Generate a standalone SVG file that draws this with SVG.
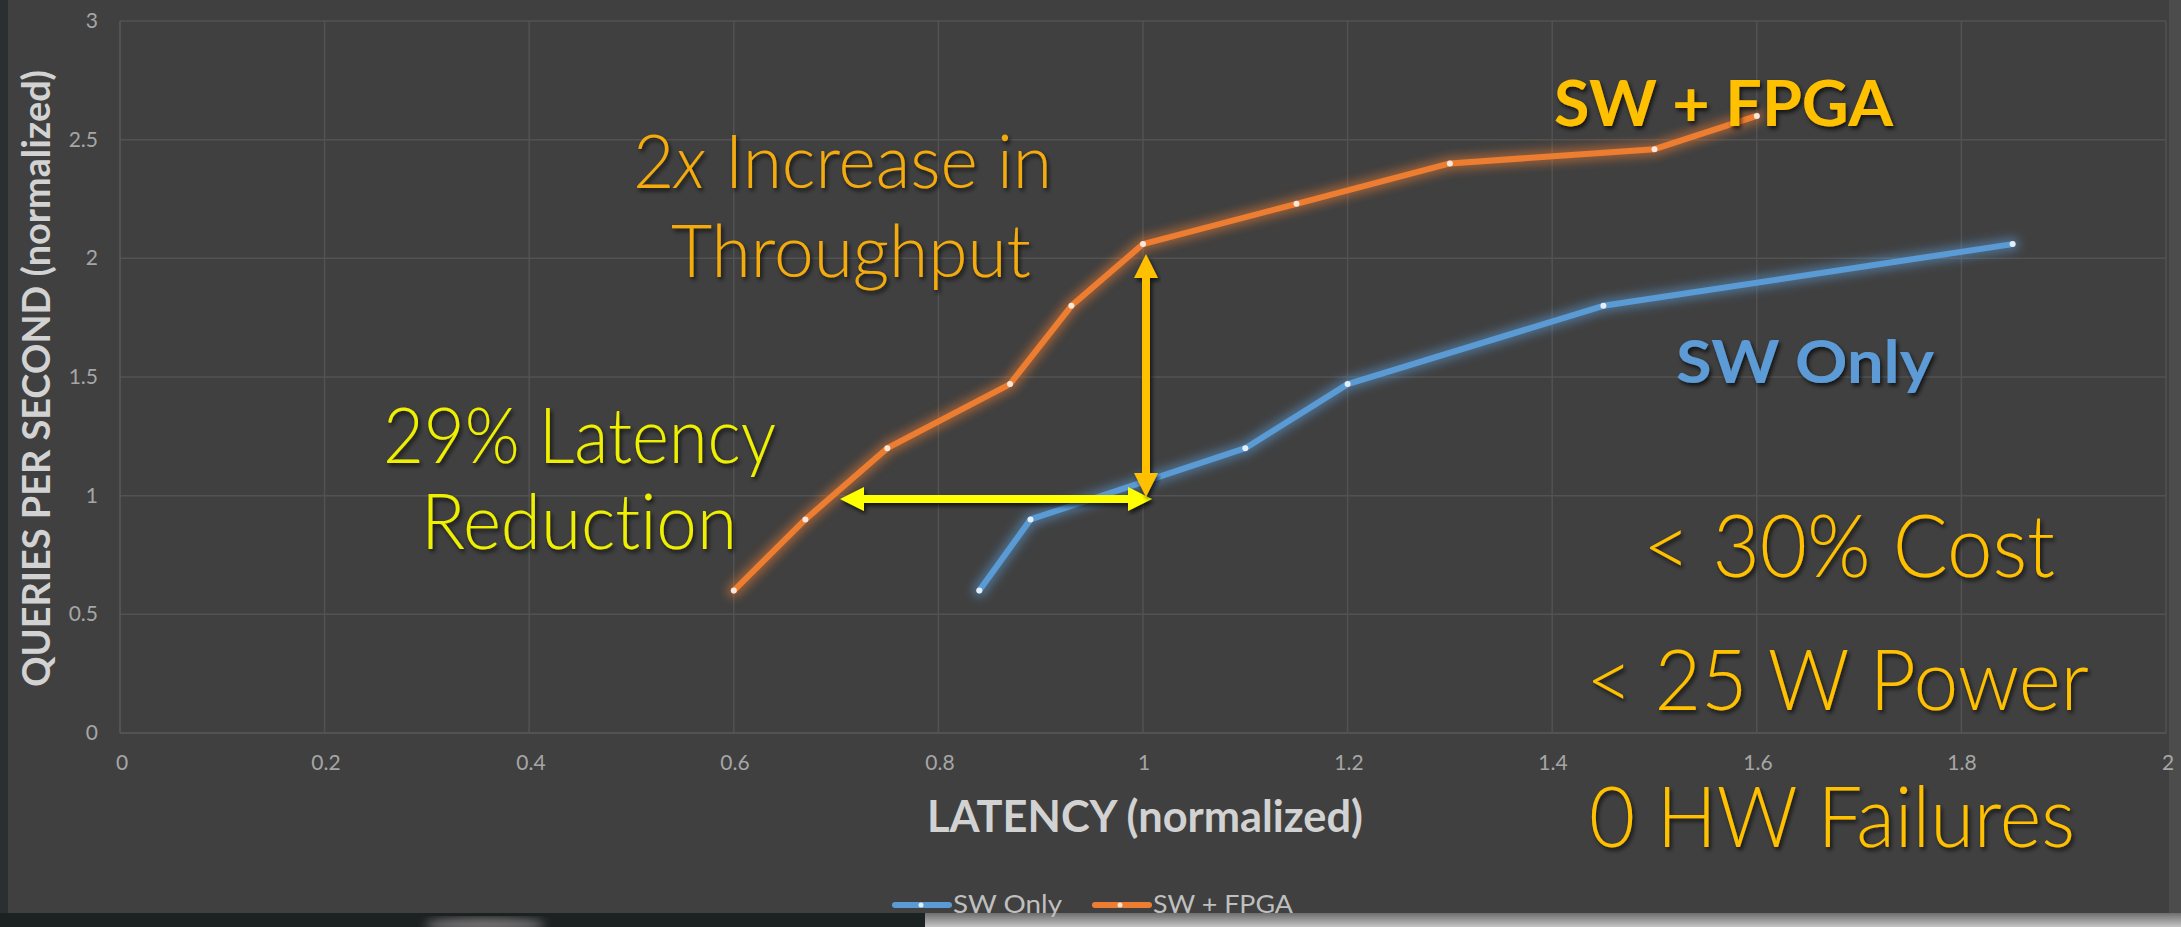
<svg xmlns="http://www.w3.org/2000/svg" width="2181" height="927" viewBox="0 0 2181 927">
  <style>
    text { font-variant-ligatures: none; }
    .tick { font-family: Lato, "Liberation Sans", sans-serif; font-size: 21px; fill: #a6a6a6; }
    .xt { text-anchor: middle; }
    .yt { text-anchor: end; }
    .axis-title { font-family: Lato, "Liberation Sans", sans-serif; font-weight: 700; fill: #d2d2d2; }
    .legend { font-family: Lato, "Liberation Sans", sans-serif; font-size: 25px; fill: #bfbfbf; }
    .callout { font-family: Lato, "Liberation Sans", sans-serif; font-weight: 300; filter: url(#shadow); }
    .tag { font-family: Lato, "Liberation Sans", sans-serif; font-weight: 700; filter: url(#shadow); }
    .grid line { stroke: #525252; stroke-width: 1.5; }
    .series { fill: none; stroke-width: 6; stroke-linejoin: round; stroke-linecap: round; }
    .glow { fill: none; stroke-width: 14; stroke-linejoin: round; stroke-linecap: round; opacity: 0.5; filter: url(#blur); }
    .dot { fill: #f4e8df; }
    .dot-b { fill: #e3eef9; }
  </style>
  <defs>
    <filter id="blur" x="-10%" y="-10%" width="120%" height="120%">
      <feGaussianBlur stdDeviation="5"/>
    </filter>
    <filter id="shadow" x="-5%" y="-10%" width="115%" height="130%">
      <feDropShadow dx="2" dy="3" stdDeviation="2" flood-color="#000" flood-opacity="0.7"/>
    </filter>
    <linearGradient id="floor" x1="0" y1="0" x2="0" y2="1">
      <stop offset="0" stop-color="#6e6e6e"/>
      <stop offset="1" stop-color="#c4c4c4"/>
    </linearGradient>
  </defs>

  <!-- slide background -->
  <rect x="0" y="0" width="2181" height="927" fill="#404040"/>
  <!-- surroundings at the slide edges -->
  <rect x="0" y="0" width="8" height="927" fill="#2a3030"/>
  <rect x="0" y="913" width="925" height="14" fill="#1c2222"/>
  <rect x="925" y="913" width="1256" height="14" fill="url(#floor)"/>
  <rect x="2169" y="0" width="12" height="913" fill="#4c4c4c"/>
  <ellipse cx="485" cy="925" rx="60" ry="7" fill="#cfc3c3" opacity="0.5" filter="url(#blur)"/>

  <!-- plot grid -->
  <g id="grid" class="grid">
    <line x1="120" y1="21" x2="2166" y2="21"/>
    <line x1="120" y1="139.7" x2="2166" y2="139.7"/>
    <line x1="120" y1="258.3" x2="2166" y2="258.3"/>
    <line x1="120" y1="377" x2="2166" y2="377"/>
    <line x1="120" y1="495.7" x2="2166" y2="495.7"/>
    <line x1="120" y1="614.3" x2="2166" y2="614.3"/>
    <line x1="120" y1="733" x2="2166" y2="733" style="stroke:#5a5a5a"/>
    <line x1="120" y1="21" x2="120" y2="733" style="stroke:#5a5a5a"/>
    <line x1="324.6" y1="21" x2="324.6" y2="733"/>
    <line x1="529.2" y1="21" x2="529.2" y2="733"/>
    <line x1="733.8" y1="21" x2="733.8" y2="733"/>
    <line x1="938.4" y1="21" x2="938.4" y2="733"/>
    <line x1="1143" y1="21" x2="1143" y2="733"/>
    <line x1="1347.6" y1="21" x2="1347.6" y2="733"/>
    <line x1="1552.2" y1="21" x2="1552.2" y2="733"/>
    <line x1="1756.8" y1="21" x2="1756.8" y2="733"/>
    <line x1="1961.4" y1="21" x2="1961.4" y2="733"/>
    <line x1="2166" y1="21" x2="2166" y2="733"/>
  </g>

  <!-- axis tick labels -->
  <g id="y-ticks" class="tick yt">
    <text x="98" y="28">3</text>
    <text x="98" y="147">2.5</text>
    <text x="98" y="265">2</text>
    <text x="98" y="384">1.5</text>
    <text x="98" y="503">1</text>
    <text x="98" y="621">0.5</text>
    <text x="98" y="740">0</text>
  </g>
  <g id="x-ticks" class="tick xt">
    <text x="122" y="770">0</text>
    <text x="326" y="770">0.2</text>
    <text x="531" y="770">0.4</text>
    <text x="735" y="770">0.6</text>
    <text x="940" y="770">0.8</text>
    <text x="1144" y="770">1</text>
    <text x="1349" y="770">1.2</text>
    <text x="1553" y="770">1.4</text>
    <text x="1758" y="770">1.6</text>
    <text x="1962" y="770">1.8</text>
    <text x="2168" y="770">2</text>
  </g>

  <!-- axis titles -->
  <g id="x-title">
    <text class="axis-title" x="927" y="832" font-size="44" textLength="436" lengthAdjust="spacingAndGlyphs">LATENCY (normalized)</text>
  </g>
  <g id="y-title">
    <text class="axis-title" transform="translate(50,687) rotate(-90)" x="0" y="0" font-size="39" textLength="617" lengthAdjust="spacingAndGlyphs">QUERIES PER SECOND (normalized)</text>
  </g>

  <!-- data series -->
  <g id="series-sw-only">
    <polyline class="glow" stroke="#5b9bd5" points="979.3,590.6 1030.5,519.4 1245.3,448.2 1347.6,384.1 1603.4,305.8 2012.6,244.1"/>
    <polyline class="series" stroke="#5b9bd5" points="979.3,590.6 1030.5,519.4 1245.3,448.2 1347.6,384.1 1603.4,305.8 2012.6,244.1"/>
    <circle class="dot-b" cx="979.3" cy="590.6" r="3"/>
    <circle class="dot-b" cx="1030.5" cy="519.4" r="3"/>
    <circle class="dot-b" cx="1245.3" cy="448.2" r="3"/>
    <circle class="dot-b" cx="1347.6" cy="384.1" r="3"/>
    <circle class="dot-b" cx="1603.4" cy="305.8" r="3"/>
    <circle class="dot-b" cx="2012.6" cy="244.1" r="3"/>
  </g>
  <g id="series-sw-fpga">
    <polyline class="glow" stroke="#ed7d31" points="733.8,590.6 805.4,519.4 887.3,448.2 1010,384.1 1071.4,305.8 1143,244.1 1296.5,203.8 1449.9,163.4 1654.5,149.2 1756.8,115.9"/>
    <polyline class="series" stroke="#ed7d31" points="733.8,590.6 805.4,519.4 887.3,448.2 1010,384.1 1071.4,305.8 1143,244.1 1296.5,203.8 1449.9,163.4 1654.5,149.2 1756.8,115.9"/>
    <circle class="dot" cx="733.8" cy="590.6" r="3"/>
    <circle class="dot" cx="805.4" cy="519.4" r="3"/>
    <circle class="dot" cx="887.3" cy="448.2" r="3"/>
    <circle class="dot" cx="1010" cy="384.1" r="3"/>
    <circle class="dot" cx="1071.4" cy="305.8" r="3"/>
    <circle class="dot" cx="1143" cy="244.1" r="3"/>
    <circle class="dot" cx="1296.5" cy="203.8" r="3"/>
    <circle class="dot" cx="1449.9" cy="163.4" r="3"/>
    <circle class="dot" cx="1654.5" cy="149.2" r="3"/>
    <circle class="dot" cx="1756.8" cy="115.9" r="3"/>
  </g>

  <!-- comparison arrows -->
  <g id="connectors">
    <g id="latency-arrow" filter="url(#shadow)" fill="#ffff00">
      <rect x="860" y="495" width="270" height="8"/>
      <polygon points="840,499 864,487 864,511"/>
      <polygon points="1152,499 1128,487 1128,511"/>
    </g>
    <g id="throughput-arrow" filter="url(#shadow)" fill="#ffc000">
      <rect x="1142" y="275" width="8" height="200"/>
      <polygon points="1146,254 1134,278 1158,278"/>
      <polygon points="1146,497 1134,473 1158,473"/>
    </g>
  </g>

  <!-- callouts -->
  <g id="label-sw-fpga">
    <text class="tag" x="1554" y="126" font-size="64" fill="#ffc000" textLength="339" lengthAdjust="spacingAndGlyphs">SW + FPGA</text>
  </g>
  <g id="label-sw-only">
    <text class="tag" x="1676" y="383" font-size="60" fill="#5b9bd5" textLength="258" lengthAdjust="spacingAndGlyphs">SW Only</text>
  </g>
  <g id="note-throughput" fill="#f4ab0c">
    <text class="callout" x="633" y="188" font-size="74" textLength="419" lengthAdjust="spacingAndGlyphs">2<tspan font-style="italic">x</tspan> Increase in</text>
    <text class="callout" x="671" y="277" font-size="72" textLength="360" lengthAdjust="spacingAndGlyphs">Throughput</text>
  </g>
  <g id="note-latency" fill="#eef000">
    <text class="callout" x="383" y="463" font-size="76" textLength="393" lengthAdjust="spacingAndGlyphs">29% Latency</text>
    <text class="callout" x="421" y="549" font-size="76" textLength="316" lengthAdjust="spacingAndGlyphs">Reduction</text>
  </g>
  <g id="note-metrics" fill="#ffc000">
    <text class="callout" x="1643" y="577" font-size="86" textLength="412" lengthAdjust="spacingAndGlyphs">&lt; 30% Cost</text>
    <text class="callout" x="1586" y="710" font-size="84" textLength="503" lengthAdjust="spacingAndGlyphs">&lt; 25 W Power</text>
    <text class="callout" x="1589" y="847" font-size="84" textLength="486" lengthAdjust="spacingAndGlyphs">0 HW Failures</text>
  </g>

  <!-- legend -->
  <g id="legend">
    <line x1="895" y1="905" x2="949" y2="905" stroke="#5b9bd5" stroke-width="6" stroke-linecap="round"/>
    <circle cx="921" cy="905" r="2.5" fill="#e3eef9"/>
    <text class="legend" x="953" y="913" textLength="109" lengthAdjust="spacingAndGlyphs">SW Only</text>
    <line x1="1095" y1="905" x2="1149" y2="905" stroke="#ed7d31" stroke-width="6" stroke-linecap="round"/>
    <circle cx="1120" cy="905" r="2.5" fill="#f4e8df"/>
    <text class="legend" x="1153" y="913" textLength="140" lengthAdjust="spacingAndGlyphs">SW + FPGA</text>
  </g>
</svg>
